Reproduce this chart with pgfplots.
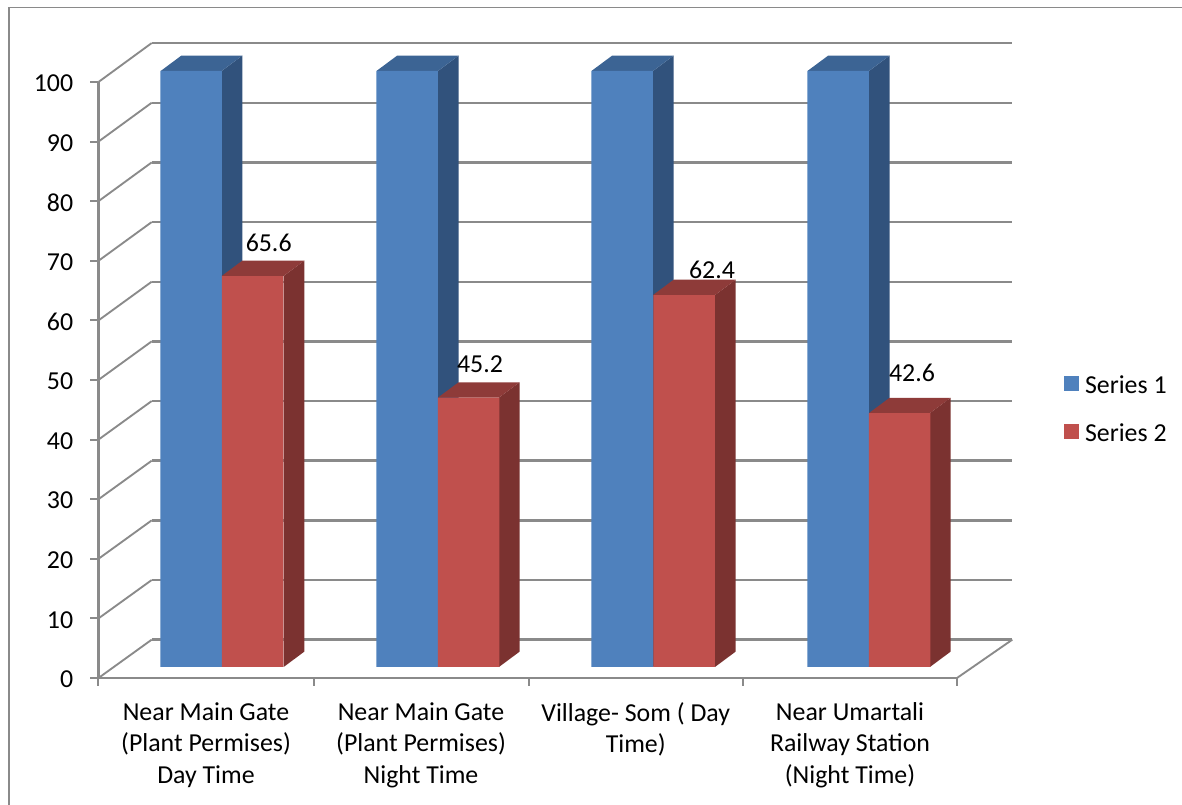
\documentclass[border=0pt]{standalone}
\usepackage{fontspec}
\setmainfont{Carlito}
\usepackage{pgfplots}
\pgfplotsset{compat=1.18}

\definecolor{gridgray}{HTML}{8A8A8A}
\definecolor{blueface}{HTML}{4F81BD}
\definecolor{blueside}{HTML}{31527C}
\definecolor{bluetop}{HTML}{3C6494}
\definecolor{redface}{HTML}{C0504D}
\definecolor{redside}{HTML}{7B3230}
\definecolor{redtop}{HTML}{8E3B39}

\pgfplotsset{
  wall/.style={forget plot, gridgray, line width=1.8pt, no marks},
  diag/.style={forget plot, gridgray, line width=1.4pt, no marks},
  face/.style={forget plot, draw=none, fill=#1, no marks},
  swatch/.style={legend image code/.code={
    \fill[#1] (0pt,-12.4pt) rectangle (11.25pt,-1.2pt);}},
}

\begin{document}
\begin{tikzpicture}
\path[use as bounding box] (0pt,0pt) rectangle (886.5pt,603.75pt);
% outer frame of the chart area
\draw[gridgray, line width=1pt] (6.75pt,0pt) -- (6.75pt,598.1pt) -- (886.5pt,598.1pt);

\begin{axis}[
  at={(73.875pt,95.25pt)}, anchor=south west,
  scale only axis, width=643.875pt, height=447pt,
  xmin=98.5, xmax=957, ymin=0, ymax=100,
  clip=false,
  axis lines=left,
  axis line style={-, gridgray, line width=1.8pt},
  tick style={gridgray, line width=1.5pt},
  tick align=outside, major tick length=6pt,
  ytick={0,10,...,100},
  xtick={98.5,313.5,528.5,743,957},
  x tick label as interval,
  xticklabels={
    {Near Main Gate\\(Plant Permises)\\Day Time},
    {Near Main Gate\\(Plant Permises)\\Night Time},
    {Village- Som ( Day\\Time)},
    {Near Umartali\\Railway Station\\(Night Time)}},
  xticklabel style={align=center, font=\fontsize{19.4}{23.5}\selectfont, yshift=-9pt, anchor=north},
  yticklabel style={font=\fontsize{19.4}{22}\selectfont, xshift=-9.5pt, yshift=-1pt},
  /pgf/number format/assume math mode=true,
  legend style={at={(axis cs:1060,45.05)}, anchor=west, draw=none, fill=none,
    font=\fontsize{19.4}{22}\selectfont, row sep=16.7pt,
    /tikz/every odd column/.style={column sep=2.3pt}},
  legend cell align=left,
  nodes near coords style={font=\fontsize{19.4}{22}\selectfont},
]
% back wall: horizontal rules
\addplot[wall] coordinates {(151.7,6.43) (1012.3,6.43)};
\addplot[wall] coordinates {(151.7,16.44) (1012.3,16.44)};
\addplot[wall] coordinates {(151.7,26.45) (1012.3,26.45)};
\addplot[wall] coordinates {(151.7,36.46) (1012.3,36.46)};
\addplot[wall] coordinates {(151.7,46.47) (1012.3,46.47)};
\addplot[wall] coordinates {(151.7,56.48) (1012.3,56.48)};
\addplot[wall] coordinates {(151.7,66.49) (1012.3,66.49)};
\addplot[wall] coordinates {(151.7,76.5) (1012.3,76.5)};
\addplot[wall] coordinates {(151.7,86.51) (1012.3,86.51)};
\addplot[wall] coordinates {(151.7,96.52) (1012.3,96.52)};
\addplot[wall] coordinates {(151.7,106.53) (1012.3,106.53)};
% side wall: receding rules
\addplot[diag] coordinates {(98.5,0) (151.7,6.43)};
\addplot[diag] coordinates {(98.5,10) (151.7,16.44)};
\addplot[diag] coordinates {(98.5,20) (151.7,26.45)};
\addplot[diag] coordinates {(98.5,30) (151.7,36.46)};
\addplot[diag] coordinates {(98.5,40) (151.7,46.47)};
\addplot[diag] coordinates {(98.5,50) (151.7,56.48)};
\addplot[diag] coordinates {(98.5,60) (151.7,66.49)};
\addplot[diag] coordinates {(98.5,70) (151.7,76.5)};
\addplot[diag] coordinates {(98.5,80) (151.7,86.51)};
\addplot[diag] coordinates {(98.5,90) (151.7,96.52)};
\addplot[diag] coordinates {(98.5,100) (151.7,106.53)};
% floor edge on the right
\addplot[diag] coordinates {(957,0) (1012.3,6.43)};

% Series 1: side and top faces
\addplot[face=blueside] coordinates {(221.7,101.85) (242.3,104.42) (242.3,4.42) (221.7,1.85)} -- cycle;
\addplot[face=bluetop] coordinates {(160.7,101.85) (221.7,101.85) (242.3,104.42) (181.3,104.42)} -- cycle;
\addplot[face=blueside] coordinates {(438,101.85) (458.6,104.42) (458.6,4.42) (438,1.85)} -- cycle;
\addplot[face=bluetop] coordinates {(376.5,101.85) (438,101.85) (458.6,104.42) (397.1,104.42)} -- cycle;
\addplot[face=blueside] coordinates {(653,101.85) (673.6,104.42) (673.6,4.42) (653,1.85)} -- cycle;
\addplot[face=bluetop] coordinates {(591.5,101.85) (653,101.85) (673.6,104.42) (612.1,104.42)} -- cycle;
\addplot[face=blueside] coordinates {(869,101.85) (889.6,104.42) (889.6,4.42) (869,1.85)} -- cycle;
\addplot[face=bluetop] coordinates {(807.5,101.85) (869,101.85) (889.6,104.42) (828.1,104.42)} -- cycle;
% Series 1: front faces
\addplot[ybar, bar width=61.5, bar shift=0pt, yshift=8.25pt, draw=none, fill=blueface, swatch=blueface]
  coordinates {(191.2,100) (407.2,100) (622.2,100) (838.2,100)};
\addlegendentry{Series 1}

% Series 2: side and top faces
\addplot[face=redside] coordinates {(283.7,67.45) (304.3,70.02) (304.3,4.42) (283.7,1.85)} -- cycle;
\addplot[face=redtop] coordinates {(221.7,67.45) (283.7,67.45) (304.3,70.02) (242.3,70.02)} -- cycle;
\addplot[face=redside] coordinates {(499,47.05) (519.6,49.62) (519.6,4.42) (499,1.85)} -- cycle;
\addplot[face=redtop] coordinates {(438,47.05) (499,47.05) (519.6,49.62) (458.6,49.62)} -- cycle;
\addplot[face=redside] coordinates {(715,64.25) (735.6,66.82) (735.6,4.42) (715,1.85)} -- cycle;
\addplot[face=redtop] coordinates {(653,64.25) (715,64.25) (735.6,66.82) (673.6,66.82)} -- cycle;
\addplot[face=redside] coordinates {(930,44.45) (950.6,47.02) (950.6,4.42) (930,1.85)} -- cycle;
\addplot[face=redtop] coordinates {(869,44.45) (930,44.45) (950.6,47.02) (889.6,47.02)} -- cycle;
% Series 2: front faces; each value label has its own offset from the bar top
\addplot[ybar, bar width=61.5, bar shift=0pt, yshift=8.25pt, draw=none, fill=redface, swatch=redface,
  nodes near coords, point meta=y,
  visualization depends on={\thisrow{dx} \as \labeldx},
  visualization depends on={\thisrow{dy} \as \labeldy},
  every node near coord/.append style={anchor=center, xshift=\labeldx pt, yshift=\labeldy pt, text=black},
  /pgf/number format/.cd, fixed, precision=1, fixed zerofill]
  table {
    x     y    dx   dy
    252.7 65.6 12   24.8
    468.5 45.2 8.6  25.0
    684   62.4 21   18.8
    899.5 42.6 9.4  29.9
  };
\addlegendentry{Series 2}
\end{axis}
\end{tikzpicture}
\end{document}
